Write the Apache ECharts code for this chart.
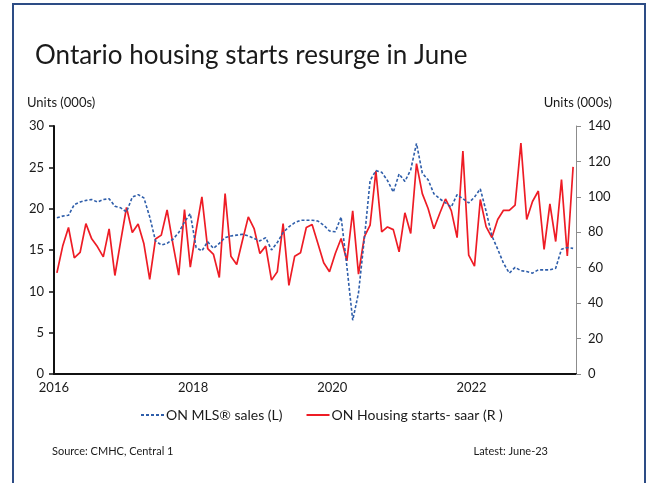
<!DOCTYPE html>
<html>
<head>
<meta charset="utf-8">
<script src="https://cdn.jsdelivr.net/npm/echarts@6/dist/echarts.min.js"></script>
<style>
  html, body { margin: 0; padding: 0; background: #fff; }
  #chart { width: 650px; height: 483px; }
</style>
</head>
<body>
<div id="chart"></div>
<script>
// Monthly series, January 2016 to June 2023
const startYear = 2016;
const monthCount = 90;

// Ontario MLS® sales, thousands of units (left axis)
const mlsSales = [
  18.9, 19.1, 19.2, 20.5, 20.8, 21.0, 21.1, 20.8, 21.1, 21.2, 20.3, 20.1,
  19.6, 21.4, 21.7, 21.3, 19.0, 16.1, 15.6, 15.8, 16.3, 17.1, 18.4, 19.4,
  15.3, 14.9, 16.0, 15.2, 15.8, 16.5, 16.7, 16.8, 16.9, 16.7, 16.4, 16.1,
  16.5, 15.0, 15.9, 17.1, 17.8, 18.3, 18.6, 18.6, 18.6, 18.5, 18.0, 17.3,
  17.2, 19.0, 13.0, 6.5, 9.8, 16.3, 23.4, 24.6, 24.4, 23.4, 22.0, 24.2,
  23.3, 24.7, 27.9, 24.3, 23.5, 21.8, 21.2, 20.7, 20.2, 21.7, 21.2, 20.7,
  21.4, 22.4, 19.7, 16.7, 15.1, 13.4, 12.2, 12.9, 12.5, 12.4, 12.2, 12.6,
  12.6, 12.6, 12.8, 15.1, 15.3, 15.2
];

// Ontario housing starts, SAAR, thousands of units (right axis)
const housingStarts = [
  57.1, 72.2, 82.7, 65.6, 68.6, 84.9, 76.3, 71.8, 66.1, 81.9, 55.6, 75.0,
  94.0, 79.9, 84.7, 73.5, 53.4, 76.2, 78.4, 92.6, 73.5, 55.8, 92.8, 60.3,
  81.0, 100.0, 70.8, 67.5, 54.5, 101.8, 66.5, 61.8, 75.5, 88.7, 82.1, 68.0,
  72.2, 53.0, 57.7, 84.9, 50.0, 66.5, 68.4, 82.7, 84.4, 73.7, 62.8, 57.7,
  68.0, 76.5, 63.9, 92.1, 56.4, 77.4, 84.0, 114.6, 80.2, 83.0, 81.5, 69.0,
  91.0, 79.3, 118.8, 101.8, 93.4, 82.0, 90.6, 98.8, 92.2, 77.0, 125.9, 67.1,
  60.9, 98.5, 83.2, 77.0, 87.2, 92.4, 92.4, 95.3, 130.4, 87.2, 97.4, 103.3,
  70.3, 96.0, 74.8, 109.7, 66.6, 116.9
];

const seriesNames = ['ON MLS® sales (L)', 'ON Housing starts- saar (R )'];
const leftTicks = { min: 0, max: 30, step: 5 };
const rightTicks = { min: 0, max: 140, step: 20 };
const titleText = 'Ontario housing starts resurge in June';
const unitText = 'Units (000s)';
const sourceText = 'Source: CMHC, Central 1';
const latestText = 'Latest: June-23';

const months = [];
for (let i = 0; i < monthCount; i++) {
  const y = startYear + Math.floor(i / 12);
  const m = (i % 12) + 1;
  months.push(y + '-' + (m < 10 ? '0' + m : m));
}

const FONT = 'Lato';
const TEXT = '#1a1a1a';
const BLUE = '#2F5EAA';
const RED = '#EE1C25';

// Legend keys drawn as short line samples: a dashed one and a solid one
const DASHED_KEY = 'path://M0,0h3v2h-3z M5,0h3v2h-3z M10,0h3v2h-3z M15,0h3v2h-3z M20,0h3v2h-3z';
const SOLID_KEY = 'path://M0,0h23v2h-23z';

const isLabelMonth = (idx) => idx % 24 === 0;

const chart = echarts.init(document.getElementById('chart'), null, { renderer: 'canvas' });

chart.setOption({
  animation: false,
  backgroundColor: '#ffffff',
  textStyle: { fontFamily: FONT, color: TEXT },
  title: {
    text: titleText,
    left: 30,
    top: 38,
    textStyle: { fontFamily: FONT, fontSize: 26, fontWeight: 'normal', color: TEXT }
  },
  legend: {
    data: [
      { name: seriesNames[0], icon: DASHED_KEY },
      { name: seriesNames[1], icon: SOLID_KEY }
    ],
    left: 136,
    top: 402,
    itemWidth: 25,
    itemHeight: 2,
    itemGap: 24,
    textStyle: { fontFamily: FONT, fontSize: 14, color: TEXT, padding: [0, 0, 0, -4], lineHeight: 16 }
  },
  grid: { left: 54, right: 74, top: 126, bottom: 109, containLabel: false },
  xAxis: {
    type: 'category',
    data: months,
    boundaryGap: true,
    axisLine: { lineStyle: { color: '#111', width: 2 } },
    axisTick: {
      interval: (idx) => isLabelMonth(idx),
      length: 5,
      lineStyle: { color: '#111', width: 1.5 }
    },
    axisLabel: {
      interval: (idx) => isLabelMonth(idx),
      formatter: (v) => v.slice(0, 4),
      fontFamily: FONT,
      fontSize: 13,
      color: TEXT,
      margin: 7,
      padding: [0, 6, 0, 0]
    },
    splitLine: { show: false }
  },
  yAxis: [
    {
      type: 'value',
      min: leftTicks.min,
      max: leftTicks.max,
      interval: leftTicks.step,
      position: 'left',
      axisLine: { show: true, lineStyle: { color: '#111', width: 2 } },
      axisTick: { show: true, length: 5, lineStyle: { color: '#111', width: 1.5 } },
      axisLabel: { fontFamily: FONT, fontSize: 13, color: TEXT, margin: 10 },
      splitLine: { show: false }
    },
    {
      type: 'value',
      min: rightTicks.min,
      max: rightTicks.max,
      interval: rightTicks.step,
      position: 'right',
      axisLine: { show: true, lineStyle: { color: '#8c8c8c', width: 1 } },
      axisTick: { show: true, length: 5, lineStyle: { color: '#8c8c8c', width: 1 } },
      axisLabel: { fontFamily: FONT, fontSize: 13, color: TEXT, margin: 12 },
      splitLine: { show: false }
    }
  ],
  series: [
    {
      name: seriesNames[0],
      type: 'line',
      yAxisIndex: 0,
      data: mlsSales,
      symbol: 'none',
      z: 3,
      lineStyle: { color: BLUE, width: 1.6, type: [3, 2] },
      itemStyle: { color: BLUE }
    },
    {
      name: seriesNames[1],
      type: 'line',
      yAxisIndex: 1,
      data: housingStarts,
      symbol: 'none',
      z: 2,
      lineStyle: { color: RED, width: 1.7 },
      itemStyle: { color: RED }
    }
  ],
  graphic: [
    {
      type: 'rect',
      shape: { x: 13, y: 4, width: 632, height: 500 },
      style: { fill: 'none', stroke: '#2D4C85', lineWidth: 2 },
      silent: true,
      z: 10
    },
    {
      type: 'text',
      left: 27,
      top: 96,
      style: { text: unitText, fontFamily: FONT, fontSize: 13, fill: TEXT }
    },
    {
      type: 'text',
      right: 38,
      top: 96,
      style: { text: unitText, fontFamily: FONT, fontSize: 13, fill: TEXT }
    },
    {
      type: 'text',
      left: 52,
      top: 446,
      style: { text: sourceText, fontFamily: FONT, fontSize: 11, fill: TEXT }
    },
    {
      type: 'text',
      right: 102,
      top: 446,
      style: { text: latestText, fontFamily: FONT, fontSize: 11, fill: TEXT }
    }
  ]
});
</script>
</body>
</html>
